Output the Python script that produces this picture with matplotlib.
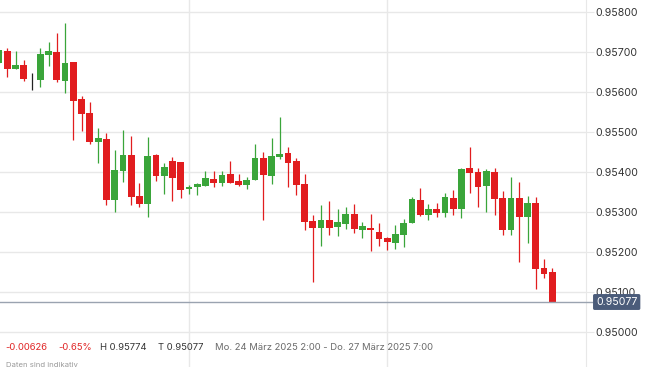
import numpy as np
import matplotlib
matplotlib.use("Agg")
import matplotlib.pyplot as plt

# DATA #################################################################################################################
# hourly candles, oldest first (first candle is only partly visible)
opens = [0.95674, 0.95703, 0.95658, 0.95668, 0.95635, 0.95632, 0.95693, 0.95701, 0.95629, 0.95676,
         0.95583, 0.95548, 0.95477, 0.95483, 0.95331, 0.95403, 0.95443, 0.95341, 0.95321, 0.95443,
         0.95391, 0.95428, 0.95426, 0.95358, 0.95363, 0.95366, 0.95383, 0.95373, 0.95396, 0.95378,
         0.95368, 0.95381, 0.95436, 0.95391, 0.95438, 0.95448, 0.95428, 0.95371, 0.95278, 0.95261,
         0.95281, 0.95263, 0.95271, 0.95296, 0.95256, 0.95261, 0.95251, 0.95236, 0.95223, 0.95243,
         0.95273, 0.95331, 0.95293, 0.95308, 0.95298, 0.95336, 0.95308, 0.95411, 0.95401, 0.95366,
         0.95401, 0.95336, 0.95256, 0.95336, 0.95288, 0.95323, 0.95161, 0.95151]
highs = [0.95706, 0.95712, 0.95703, 0.95681, 0.95648, 0.95711, 0.95726, 0.95748, 0.95774, 0.95676,
         0.95591, 0.95576, 0.95511, 0.95498, 0.95456, 0.95506, 0.95491, 0.95373, 0.95488, 0.95446,
         0.95423, 0.95438, 0.95426, 0.95368, 0.95373, 0.95403, 0.95403, 0.95403, 0.95428, 0.95396,
         0.95388, 0.95471, 0.95451, 0.95486, 0.95538, 0.95463, 0.95436, 0.95396, 0.95293, 0.95318,
         0.95328, 0.95308, 0.95313, 0.95321, 0.95276, 0.95296, 0.95273, 0.95238, 0.95268, 0.95283,
         0.95338, 0.95361, 0.95321, 0.95323, 0.95348, 0.95356, 0.95411, 0.95463, 0.95411, 0.95408,
         0.95411, 0.95353, 0.95388, 0.95376, 0.95341, 0.95338, 0.95183, 0.95161]
lows = [0.95674, 0.95639, 0.95658, 0.95629, 0.95606, 0.95613, 0.95666, 0.95626, 0.95598, 0.95482,
        0.95504, 0.95472, 0.95423, 0.95318, 0.95302, 0.95376, 0.95318, 0.95313, 0.95288, 0.95378,
        0.95346, 0.95328, 0.95336, 0.95346, 0.95343, 0.95366, 0.95363, 0.95366, 0.95373, 0.95366,
        0.95358, 0.95381, 0.95281, 0.95371, 0.95433, 0.95363, 0.95343, 0.95256, 0.95126, 0.95216,
        0.95243, 0.95241, 0.95258, 0.95248, 0.95236, 0.95203, 0.95216, 0.95206, 0.95208, 0.95213,
        0.95273, 0.95291, 0.95281, 0.95288, 0.95288, 0.95293, 0.95286, 0.95348, 0.95313, 0.95301,
        0.95293, 0.95243, 0.95243, 0.95176, 0.95223, 0.95108, 0.95136, 0.95077]
closes = [0.95706, 0.95659, 0.95668, 0.95633, 0.95635, 0.95696, 0.95703, 0.95631, 0.95673, 0.95579,
          0.95547, 0.95477, 0.95486, 0.95331, 0.95406, 0.95443, 0.95338, 0.95321, 0.95441, 0.95391,
          0.95413, 0.95386, 0.95356, 0.95363, 0.95371, 0.95386, 0.95373, 0.95393, 0.95373, 0.95368,
          0.95381, 0.95436, 0.95393, 0.95441, 0.95446, 0.95423, 0.95368, 0.95276, 0.95261, 0.95281,
          0.95261, 0.95276, 0.95296, 0.95258, 0.95266, 0.95256, 0.95233, 0.95226, 0.95246, 0.95273,
          0.95333, 0.95293, 0.95308, 0.95298, 0.95338, 0.95308, 0.95408, 0.95398, 0.95363, 0.95403,
          0.95333, 0.95256, 0.95336, 0.95288, 0.95323, 0.95158, 0.95146, 0.95077]
day_breaks = [23, 47]  # candle index where a new day starts
y_ticks = [0.950, 0.951, 0.952, 0.953, 0.954, 0.955, 0.956, 0.957, 0.958]
last_price = 0.95077
change_abs = "-0.00626"
change_pct = "-0.65%"
high_txt = "H 0.95774"
low_txt = "T 0.95077"
period_txt = "Mo. 24 März 2025 2:00 - Do. 27 März 2025 7:00"
note_txt = "Daten sind indikativ"

# STYLE ################################################################################################################
W, H = 645, 367
plt.rcParams['font.family'] = ['Inter', 'DejaVu Sans']
RED, GREEN, FLAT = '#e11d1f', '#3aa53a', '#222222'
GRID = '#e8e8e8'
px_per_candle = 8.258
plot_w = 585.7                       # pixel width of the candle area
y_top = 0.958 + 12.33 / 40000        # 40 px per 0.001
y_bot = 0.958 - (H - 12.33) / 40000
x_min = 0.96 / px_per_candle
x_max = x_min + plot_w / px_per_candle

fig = plt.figure(figsize=(W / 100, H / 100), dpi=100)
ax = fig.add_axes([0, 0, plot_w / W, 1])
ax.set_xlim(x_min, x_max)
ax.set_ylim(y_bot, y_top)

# grid
for t in y_ticks:
    ax.axhline(t, color=GRID, lw=1.0, zorder=0)
for d in day_breaks:
    ax.axvline(d, color=GRID, lw=1.0, zorder=0)

# candles
idx = np.arange(len(opens))
o, h, l, c = map(np.array, (opens, highs, lows, closes))
cols = np.where(c > o, GREEN, np.where(c < o, RED, FLAT))
ax.vlines(idx, l, h, colors=cols, lw=0.9, zorder=2)
body = np.maximum(np.abs(c - o), 0.00002)
ax.bar(idx, body, bottom=np.minimum(o, c), width=0.82, color=cols, lw=0, zorder=3)

# last price line, runs into the label
x_end = x_min + 594 / px_per_candle
ax.plot([x_min, x_end], [last_price, last_price], color='#9aa3b0', lw=1.0, clip_on=False, zorder=4)

# axis cosmetics
for s in ['left', 'top', 'bottom']:
    ax.spines[s].set_visible(False)
ax.spines['right'].set_color(GRID)
ax.set_xticks([])
ax.yaxis.tick_right()
ax.set_yticks(y_ticks)
ax.set_yticklabels(['%.5f' % t for t in y_ticks])
ax.tick_params(axis='y', length=5.6, width=0.8, color=GRID, pad=1.2, labelsize=7.6, labelcolor='#333333')

# last price badge
fig.text(596 / W, 1 - 302 / H, '%.5f' % last_price, color='white', fontsize=7.6, va='center', ha='left',
         bbox=dict(boxstyle='round,pad=0.28,rounding_size=0.15', fc='#4b5c7a', ec='none'))

# footer
ty = 1 - 347.5 / H
fs = 6.8
fig.text(5 / W, ty, change_abs, color='#e02424', fontsize=fs, va='center')
fig.text(58 / W, ty, change_pct, color='#e02424', fontsize=fs, va='center')
fig.text(100 / W, ty, high_txt, color='#333333', fontsize=fs, va='center')
fig.text(158 / W, ty, low_txt, color='#333333', fontsize=fs, va='center')
fig.text(215 / W, ty, period_txt, color='#6b6b6b', fontsize=fs, va='center')
fig.text(6 / W, 1 - 362 / H, note_txt, color='#9a9a9a', fontsize=5.6, va='top')

fig.savefig('out.png', dpi=100)
